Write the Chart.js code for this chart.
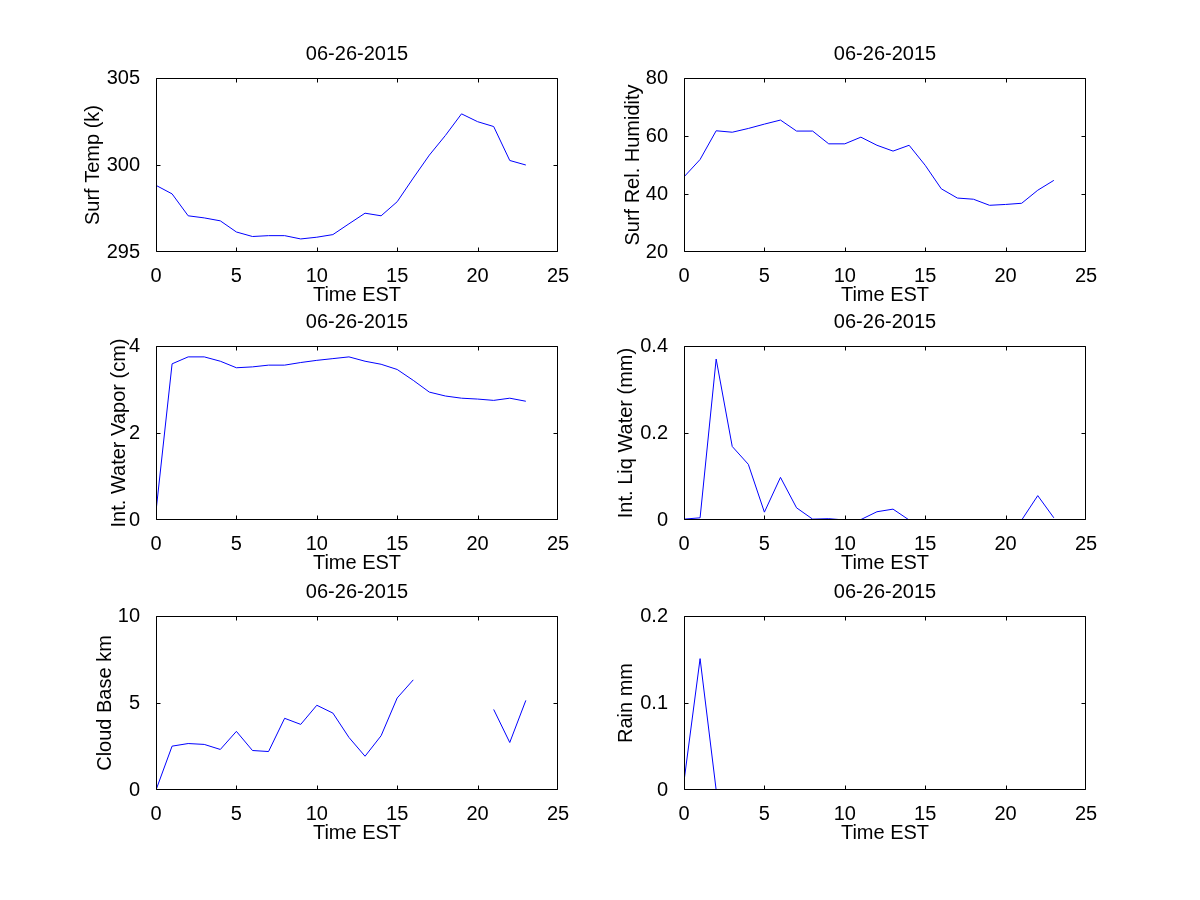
<!DOCTYPE html>
<html>
<head>
<meta charset="utf-8">
<title>06-26-2015</title>
<script src="https://cdn.jsdelivr.net/npm/chart.js@4.4.1/dist/chart.umd.min.js"></script>
<style>
  html, body { margin: 0; padding: 0; background: #fff; }
  #fig { position: relative; width: 1200px; height: 900px; overflow: hidden; background: #fff; }
  #fig canvas { position: absolute; }
</style>
</head>
<body>
<div id="fig"></div>
<script>
// data
const dateLabel = '06-26-2015';
const hours = [0, 1, 2, 3, 4, 5, 6, 7, 8, 9, 10, 11, 12, 13, 14, 15, 16, 17, 18, 19, 20, 21, 22, 23];
const hourTicks = [0, 5, 10, 15, 20, 25];

const surfTemp = [298.83, 298.34, 297.08, 296.96, 296.79, 296.15, 295.89, 295.94, 295.94, 295.75, 295.85, 296.0,
                  296.62, 297.23, 297.08, 297.89, 299.25, 300.57, 301.70, 302.94, 302.49, 302.21, 300.26, 300.0];
const surfRH = [45.9, 51.9, 61.8, 61.3, 62.6, 64.1, 65.5, 61.7, 61.7, 57.3, 57.3, 59.6,
                56.8, 54.8, 56.8, 49.9, 41.8, 38.6, 38.2, 36.1, 36.4, 36.8, 41.3, 44.7];
const waterVapor = [0.2, 3.59, 3.75, 3.75, 3.65, 3.5, 3.52, 3.56, 3.56, 3.62, 3.67, 3.71,
                    3.75, 3.65, 3.58, 3.46, 3.21, 2.94, 2.85, 2.8, 2.78, 2.75, 2.8, 2.73];
const liqWater = [0.002, 0.005, 0.37, 0.169, 0.128, 0.018, 0.098, 0.028, 0.002, 0.003, 0, 0.001,
                  0.019, 0.025, 0, 0, 0, 0, 0, 0, 0, 0, 0.056, 0.005];
const cloudBase = [0, 2.52, 2.67, 2.62, 2.33, 3.37, 2.27, 2.21, 4.12, 3.77, 4.87, 4.42,
                   3.02, 1.94, 3.12, 5.29, 6.33, null, null, null, null, 4.63, 2.73, 5.15];
const rain = [0.01, 0.151, 0, 0, 0, 0, 0, 0, 0, 0, 0, 0,
              0, 0, 0, 0, 0, 0, 0, 0, 0, 0, 0, 0];

const tempTicks = [295, 300, 305];
const rhTicks = [20, 40, 60, 80];
const vaporTicks = [0, 2, 4];
const liqTicks = [0, 0.2, 0.4];
const cloudTicks = [0, 5, 10];
const rainTicks = [0, 0.1, 0.2];

const panels = [
  { yLabel: 'Surf Temp (k)',          values: surfTemp,   ticks: tempTicks,  col: 0, row: 0, labelGap: 62.5 },
  { yLabel: 'Surf Rel. Humidity',     values: surfRH,     ticks: rhTicks,    col: 1, row: 0, labelGap: 50.5 },
  { yLabel: 'Int. Water Vapor (cm)',  values: waterVapor, ticks: vaporTicks, col: 0, row: 1, labelGap: 37 },
  { yLabel: 'Int. Liq Water (mm)',    values: liqWater,   ticks: liqTicks,   col: 1, row: 1, labelGap: 57.5 },
  { yLabel: 'Cloud Base km',          values: cloudBase,  ticks: cloudTicks, col: 0, row: 2, labelGap: 51 },
  { yLabel: 'Rain mm',                values: rain,       ticks: rainTicks,  col: 1, row: 2, labelGap: 57.5 }
];

// layout (px)
const plotLefts = [156, 684];
const plotTops = [78, 346, 616];
const plotW = 402, plotH = 174;
const padL = 80, padT = 36, padR = 20, padB = 60;

const font = { family: '"Liberation Sans", Arial, Helvetica, sans-serif', size: 20 };

// box drawn over the data (like MATLAB), with tick marks pointing inward on all four sides
const boxAndTicks = {
  id: 'boxAndTicks',
  afterDraw(chart) {
    const ctx = chart.ctx;
    const a = chart.chartArea;
    const xs = chart.scales.x, ys = chart.scales.y;
    const L = Math.round(a.left) + 0.5, R = Math.round(a.right) - 0.5;
    const T = Math.round(a.top) + 0.5, B = Math.round(a.bottom) - 0.5;
    const clamp = (v, lo, hi) => Math.min(hi, Math.max(lo, v));
    const len = 4;
    ctx.save();
    ctx.strokeStyle = '#000';
    ctx.lineWidth = 1;
    ctx.beginPath();
    ctx.rect(L, T, R - L, B - T);
    xs.ticks.forEach(t => {
      const px = clamp(Math.round(xs.getPixelForValue(t.value)) + 0.5, L, R);
      ctx.moveTo(px, B); ctx.lineTo(px, B - len);
      ctx.moveTo(px, T); ctx.lineTo(px, T + len);
    });
    ys.ticks.forEach(t => {
      const py = clamp(Math.round(ys.getPixelForValue(t.value)) + 0.5, T, B);
      ctx.moveTo(L, py); ctx.lineTo(L + len, py);
      ctx.moveTo(R, py); ctx.lineTo(R - len, py);
    });
    ctx.stroke();
    ctx.restore();
  }
};

const fig = document.getElementById('fig');

panels.forEach(p => {
  const canvas = document.createElement('canvas');
  canvas.width = padL + plotW + padR;
  canvas.height = padT + plotH + padB;
  canvas.style.left = (plotLefts[p.col] - padL) + 'px';
  canvas.style.top = (plotTops[p.row] - padT) + 'px';
  fig.appendChild(canvas);

  const yMin = p.ticks[0], yMax = p.ticks[p.ticks.length - 1];
  const noBorder = { display: false };

  new Chart(canvas.getContext('2d'), {
    type: 'line',
    data: {
      datasets: [{
        data: hours.map((h, i) => ({ x: h, y: p.values[i] })),
        borderColor: '#0000ff',
        borderWidth: 1,
        pointRadius: 0,
        tension: 0,
        spanGaps: false,
        clip: 0
      }]
    },
    options: {
      responsive: false,
      animation: false,
      devicePixelRatio: 1,
      layout: { padding: 0 },
      plugins: { legend: { display: false }, tooltip: { enabled: false } },
      scales: {
        x: {
          type: 'linear', position: 'bottom',
          min: hourTicks[0], max: hourTicks[hourTicks.length - 1],
          afterBuildTicks: s => { s.ticks = hourTicks.map(v => ({ value: v })); },
          afterFit: s => { s.height = padB; },
          grid: { display: false },
          border: noBorder,
          ticks: { color: '#000', font: font, padding: 4, maxRotation: 0, autoSkip: false },
          title: { display: true, text: 'Time EST', color: '#000', font: font, padding: { top: 0, bottom: 5 } }
        },
        x2: {
          type: 'linear', position: 'top',
          min: hourTicks[0], max: hourTicks[hourTicks.length - 1],
          afterFit: s => { s.height = padT; },
          grid: { display: false },
          border: noBorder,
          ticks: { display: false },
          title: { display: true, text: dateLabel, color: '#000', font: font, padding: { top: 0, bottom: 0 } }
        },
        y: {
          type: 'linear', position: 'left',
          min: yMin, max: yMax,
          afterBuildTicks: s => { s.ticks = p.ticks.map(v => ({ value: v })); },
          afterFit: s => { s.width = padL; },
          grid: { display: false },
          border: noBorder,
          ticks: { color: '#000', font: font, padding: 8, autoSkip: false },
          title: { display: true, text: p.yLabel, color: '#000', font: font,
                   padding: { top: padL - p.labelGap - 12, bottom: 0 } }
        },
        y2: {
          type: 'linear', position: 'right',
          min: yMin, max: yMax,
          afterFit: s => { s.width = padR; },
          grid: { display: false },
          border: noBorder,
          ticks: { display: false }
        }
      }
    },
    plugins: [boxAndTicks]
  });
});
</script>
</body>
</html>
